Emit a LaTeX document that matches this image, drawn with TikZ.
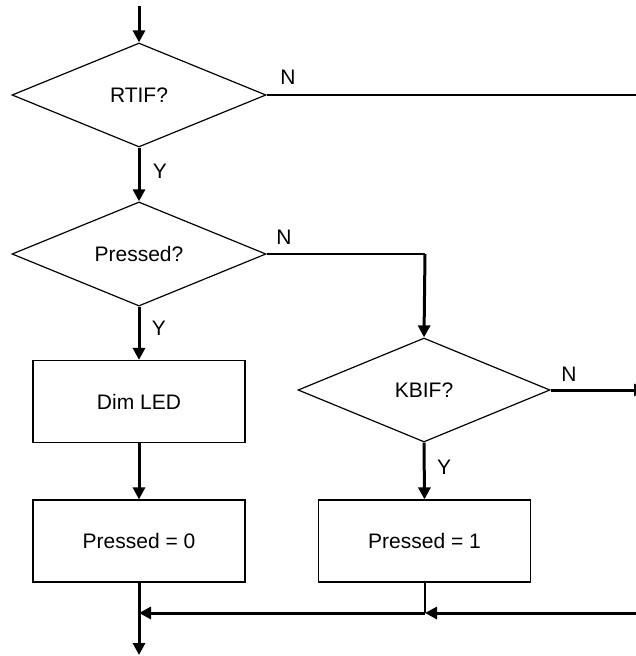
\documentclass[tikz,border=0pt]{standalone}
\usepackage{fontspec}
\setmainfont{Liberation Sans}
\usetikzlibrary{shapes.geometric,arrows.meta}
\begin{document}
\begin{tikzpicture}[x=1pt,y=-1pt,
  font=\fontsize{21}{24}\selectfont,
  dec/.style={diamond,draw,line width=1.2pt,inner sep=0pt,minimum width=254pt,minimum height=104pt},
  proc/.style={rectangle,draw,line width=1.2pt,inner sep=0pt,minimum width=212pt,minimum height=82pt},
  thin/.style={line width=1.2pt},
  thick/.style={line width=3pt},
  arr/.style={thick,-{Triangle[length=12pt,width=12pt]}},
  lab/.style={inner sep=0pt}]
\useasboundingbox (0,0) rectangle (636,656);
\clip (0,0) rectangle (636,656);
\node[dec] (rtif) at (139,95) {RTIF?};
\node[dec] (pressed) at (139,254) {Pressed?};
\node[dec,minimum width=252pt] (kbif) at (424,390) {KBIF?};
\node[proc] (dim) at (139,401.5) {Dim LED};
\node[proc] (p0) at (139,541) {Pressed = 0};
\node[proc] (p1) at (424.5,541) {Pressed = 1};
\coordinate (start) at (139,6);
\coordinate (rtifN) at (640,95);
\coordinate (turn) at (425,254);
\coordinate (kbifN) at (646,390);
\coordinate (j1) at (425,613);
\coordinate (j0) at (139,613);
\coordinate (rin) at (640,613);
\coordinate (end) at (139,655);
\draw[arr] (start) -- (rtif.north);
\draw[thin] (rtif.east) -- (rtifN);
\draw[arr] (rtif.south) -- (pressed.north);
\draw[thin] (pressed.east) -- (turn);
\draw[arr] (turn) -- (kbif.north);
\draw[arr] (pressed.south) -- (dim.north);
\draw[arr] (dim.south) -- (p0.north);
\draw[arr] (kbif.south) -- (p1.north);
\draw[arr] (kbif.east) -- (kbifN);
\draw[thin] (p1.south -| j1) -- (j1);
\draw[arr] (rin) -- (j1);
\draw[arr] (j1) -- (j0);
\draw[arr] (p0.south) -- (end);
\node[lab] (n1) at (288,77) {N};
\node[lab] (n2) at (284,237) {N};
\node[lab] (n3) at (569,374) {N};
\node[lab] (y1) at (160,171) {Y};
\node[lab] (y2) at (159,328) {Y};
\node[lab] (y3) at (444,467) {Y};
\end{tikzpicture}
\end{document}
